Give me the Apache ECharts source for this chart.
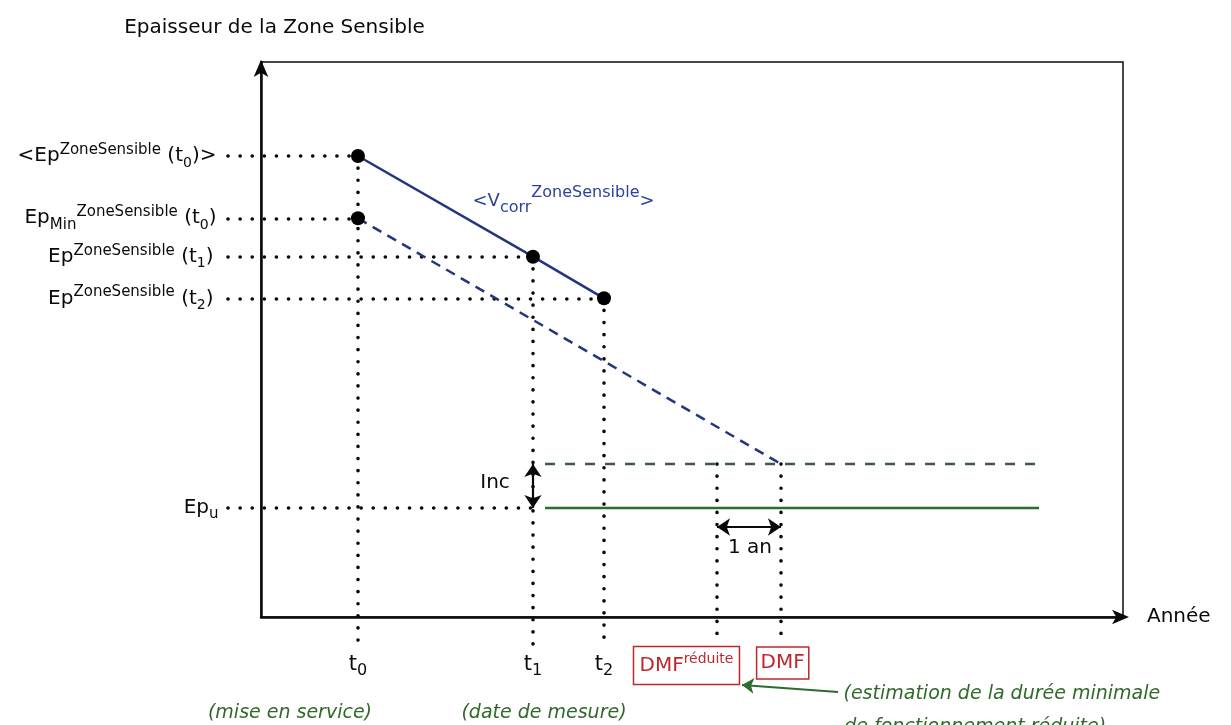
<!DOCTYPE html>
<html><head><meta charset="utf-8">
<script src="https://cdn.jsdelivr.net/npm/echarts@6/dist/echarts.min.js"></script>
<style>html,body{margin:0;padding:0;background:#fff}#c{width:1231px;height:725px}</style>
</head><body><div id="c"></div>
<script>
// ---------- data (abstract units: time on x, thickness on y, 0..100) ----------
const tYears = [11.25, 31.55, 39.79];          // t0, t1, t2
const tSubs = ['0', '1', '2'];
const epMeasured = [83.06, 64.92, 57.42];      // <Ep(t0)>, Ep(t1), Ep(t2)
const epMinT0 = 71.84;                          // EpMin(t0)
const epU = 19.64;                              // Ep_u
const epUInc = 27.57;                           // Ep_u + Inc
const dmfYears = [52.9, 60.32];                 // DMF réduite, DMF
const thresholdSpan = [32.95, 90.26];           // extent of the Ep_u lines
const axisTitles = ['Epaisseur de la Zone Sensible', 'Année'];

// ---------- annotation anchors (data units) ----------
const leftStart = -3.83;     // where the horizontal dotted guides begin
const guideBottom = -5.05;   // where the vertical dotted guides end
const tLabelY = -8.6;

const FONT = 'DejaVu Sans';
const INK = '#0a0a0a';
const BLUE = '#22367f';
const BLUE_TXT = '#2b42a0';
const GREEN = '#2e6b2e';
const GREEN_TXT = '#2f6a28';
const RED = '#c0272d';

const baseRich = {
  b:   {fontSize: 20, color: INK, lineHeight: 30, verticalAlign: 'middle', fontFamily: FONT},
  sup: {fontSize: 15, color: INK, lineHeight: 18, height: 18, verticalAlign: 'top', fontFamily: FONT},
  sub: {fontSize: 14, color: INK, lineHeight: 16, height: 16, verticalAlign: 'bottom', fontFamily: FONT},
  subM:{fontSize: 15, color: INK, lineHeight: 17, height: 17, verticalAlign: 'bottom', fontFamily: FONT},
  tb:  {fontSize: 21, color: INK, lineHeight: 30, verticalAlign: 'middle', fontFamily: FONT},
  ts:  {fontSize: 16, color: INK, lineHeight: 17, height: 17, verticalAlign: 'bottom', fontFamily: FONT},
  vb:  {fontSize: 18, color: BLUE_TXT, lineHeight: 30, verticalAlign: 'middle', fontFamily: FONT},
  vsup:{fontSize: 16, color: BLUE_TXT, lineHeight: 13, height: 13, verticalAlign: 'top', fontFamily: FONT},
  vsub:{fontSize: 16, color: BLUE_TXT, lineHeight: 17, height: 17, verticalAlign: 'bottom', fontFamily: FONT},
  r:   {fontSize: 20, color: RED, lineHeight: 30, verticalAlign: 'middle', fontFamily: FONT},
  rs:  {fontSize: 14, color: RED, lineHeight: 17, height: 17, verticalAlign: 'top', fontFamily: FONT},
  r2:  {fontSize: 20, color: RED, lineHeight: 24, verticalAlign: 'middle', fontFamily: FONT}
};

function txt(x, y, formatter, extra) {
  return {value: [x, y], label: Object.assign({show: true, formatter: formatter, rich: baseRich}, extra || {})};
}

const leftLabels = [
  txt(leftStart, epMeasured[0], '{b|<Ep}{sup|ZoneSensible}{b| (t}{sub|0}{b|)>}', {position: 'left', distance: 11}),
  txt(leftStart, epMinT0, '{b|Ep}{subM|Min}{sup|ZoneSensible}{b| (t}{sub|0}{b|)}', {position: 'left', distance: 11}),
  txt(leftStart, epMeasured[1], '{b|Ep}{sup|ZoneSensible}{b| (t}{sub|1}{b|)}', {position: 'left', distance: 14}),
  txt(leftStart, epMeasured[2], '{b|Ep}{sup|ZoneSensible}{b| (t}{sub|2}{b|)}', {position: 'left', distance: 14}),
  txt(leftStart, epU, '{b|Ep}{subM|u}', {position: 'left', distance: 9})
];
const tLabels = tYears.map((t, i) => txt(t, tLabelY, '{tb|t}{ts|' + tSubs[i] + '}', {position: 'inside'}));
const italic = {fontStyle: 'italic', fontSize: 19, color: GREEN_TXT, fontFamily: FONT};
const otherLabels = [
  txt(24.48, 74.95, '{vb|<V}{vsub|corr}{vsup|ZoneSensible}{vb|>}', {position: 'right', distance: 0}),
  txt(27.15, 24.14, '{b|Inc}', {position: 'inside'}),
  txt(56.73, 12.43, '{b|1 an}', {position: 'inside'}),
  txt(49.36, -8.74, '{r|DMF}{rs|réduite}', {position: 'inside', borderColor: RED, borderWidth: 1.5, padding: [4, 6, 4, 6]}),
  txt(dmfYears[1] + 0.2, -8.29, '{r2|DMF}', {position: 'inside', borderColor: RED, borderWidth: 1.5, padding: [4, 4, 4, 4]}),
  txt(3.36, -17.3, '(mise en service)', Object.assign({position: 'inside'}, italic)),
  txt(32.83, -17.3, '(date de mesure)', Object.assign({position: 'inside'}, italic)),
  txt(67.52, -13.87, '(estimation de la durée minimale', Object.assign({position: 'right', distance: 0}, italic)),
  txt(67.6, -19.9, 'de fonctionnement réduite)', Object.assign({position: 'right', distance: 0}, italic))
];

// dotted guides
const guides = [
  [[leftStart, epMeasured[0]], [tYears[0], epMeasured[0]]],
  [[leftStart, epMinT0], [tYears[0], epMinT0]],
  [[leftStart, epMeasured[1]], [tYears[1], epMeasured[1]]],
  [[leftStart, epMeasured[2]], [tYears[2], epMeasured[2]]],
  [[leftStart, epU], [tYears[1], epU]],
  [[tYears[0], epMeasured[0]], [tYears[0], guideBottom]],
  [[tYears[1], epMeasured[1]], [tYears[1], guideBottom]],
  [[tYears[2], epMeasured[2]], [tYears[2], guideBottom]],
  [[dmfYears[0], epUInc], [dmfYears[0], guideBottom]],
  [[dmfYears[1], epUInc], [dmfYears[1], guideBottom]]
].map(c => ({coords: c}));

const chart = echarts.init(document.getElementById('c'), null, {renderer: 'canvas'});
chart.setOption({
  animation: false,
  backgroundColor: '#fff',
  textStyle: {fontFamily: FONT},
  grid: {left: 261, right: 108, top: 62, bottom: 108, show: true, borderColor: INK, borderWidth: 1.5, backgroundColor: 'transparent'},
  xAxis: {
    type: 'value', min: 0, max: 100,
    name: axisTitles[1], nameLocation: 'end', nameGap: 24,
    nameTextStyle: {fontSize: 20, color: INK, fontFamily: FONT, verticalAlign: 'middle', padding: [0, 0, 6, 0]},
    axisLine: {show: true, lineStyle: {color: INK, width: 2.5}, symbol: ['none', 'arrow'], symbolSize: [11, 17], symbolOffset: [0, 6]},
    axisTick: {show: false}, axisLabel: {show: false}, splitLine: {show: false}
  },
  yAxis: {
    type: 'value', min: 0, max: 100,
    name: axisTitles[0], nameLocation: 'end', nameGap: 24,
    nameTextStyle: {fontSize: 20, color: INK, fontFamily: FONT, align: 'center', padding: [0, 0, 0, 27]},
    axisLine: {show: true, lineStyle: {color: INK, width: 2.5}, symbol: ['none', 'arrow'], symbolSize: [11, 17], symbolOffset: [0, 2]},
    axisTick: {show: false}, axisLabel: {show: false}, splitLine: {show: false}
  },
  series: [
    {type: 'lines', coordinateSystem: 'cartesian2d', clip: false, silent: true, z: 2,
      lineStyle: {color: INK, width: 3.6, type: [0.1, 12], cap: 'round', opacity: 1},
      data: guides},
    {type: 'line', clip: false, silent: true, z: 3, symbol: 'none',
      lineStyle: {color: BLUE, width: 2.5, type: [10, 7]},
      data: [[tYears[0], epMinT0], [dmfYears[1], epUInc]]},
    {type: 'line', clip: false, silent: true, z: 3, symbol: 'none',
      lineStyle: {color: BLUE, width: 2.5},
      data: tYears.map((t, i) => [t, epMeasured[i]])},
    {type: 'line', clip: false, silent: true, z: 3, symbol: 'none',
      lineStyle: {color: GREEN, width: 2.5},
      data: thresholdSpan.map(x => [x, epU])},
    {type: 'line', clip: false, silent: true, z: 3, symbol: 'none',
      lineStyle: {color: '#3d5a42', width: 2.5, type: [10, 10]},
      data: thresholdSpan.map(x => [x, epUInc])},
    {type: 'lines', coordinateSystem: 'cartesian2d', clip: false, silent: true, z: 4,
      symbol: ['arrow', 'arrow'], symbolSize: 13,
      lineStyle: {color: INK, width: 2.2, opacity: 1},
      data: [
        {coords: [[tYears[1], epUInc], [tYears[1], epU]]},
        {coords: [[dmfYears[0], 16.22], [dmfYears[1], 16.22]]}
      ]},
    {type: 'lines', coordinateSystem: 'cartesian2d', clip: false, silent: true, z: 4,
      symbol: ['none', 'arrow'], symbolSize: 12,
      lineStyle: {color: GREEN, width: 2, opacity: 1},
      data: [{coords: [[66.94, -13.51], [55.8, -12.25]]}]},
    {type: 'scatter', clip: false, silent: true, z: 5, symbolSize: 14,
      itemStyle: {color: '#000', opacity: 1},
      data: [[tYears[0], epMeasured[0]], [tYears[0], epMinT0], [tYears[1], epMeasured[1]], [tYears[2], epMeasured[2]]]},
    {type: 'scatter', clip: false, silent: true, z: 6, symbolSize: 1,
      itemStyle: {color: 'rgba(0,0,0,0)', opacity: 1},
      data: leftLabels.concat(tLabels, otherLabels)}
  ]
});
</script></body></html>
